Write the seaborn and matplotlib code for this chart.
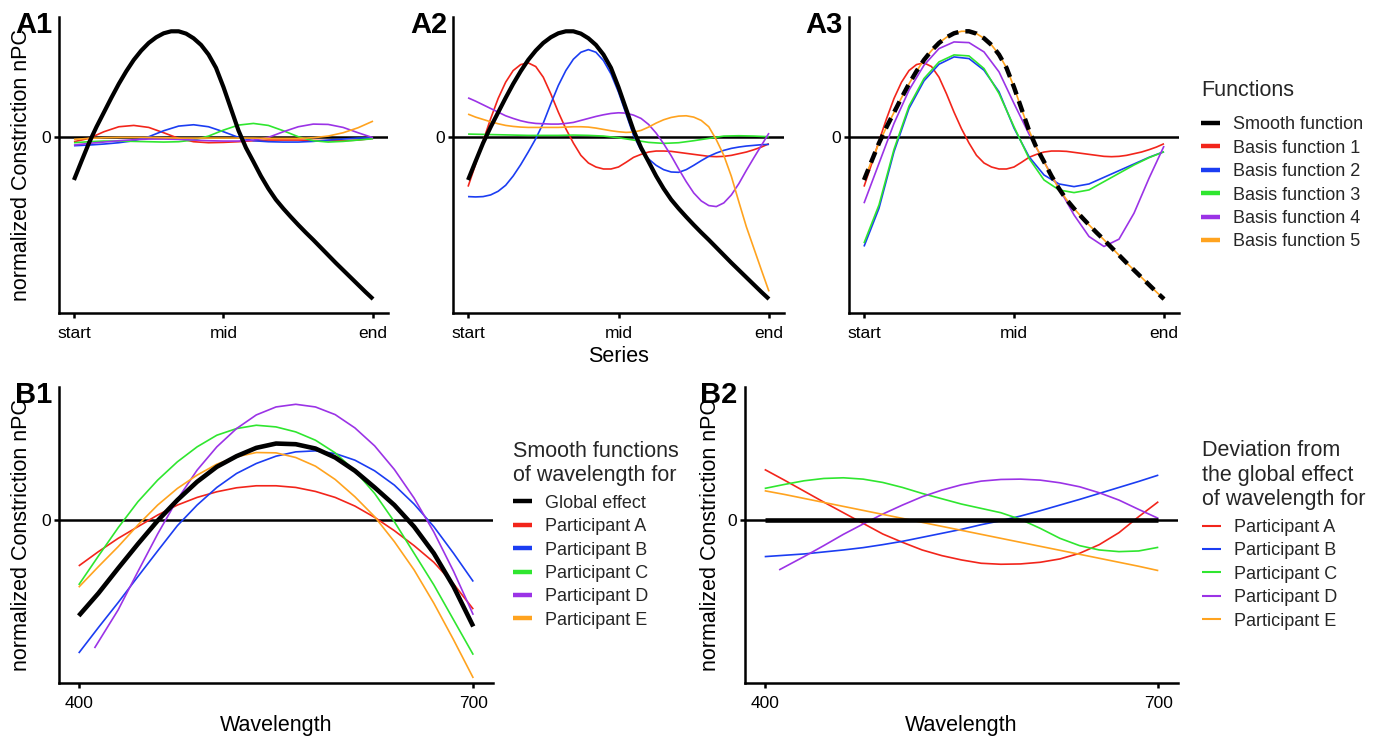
import numpy as np
import pandas as pd
import matplotlib
matplotlib.use("Agg")
import matplotlib.pyplot as plt
import seaborn as sns
from matplotlib.lines import Line2D

sns.set_theme(style="ticks")
plt.rcParams['font.family'] = ['Liberation Sans', 'DejaVu Sans']

# ---------------- data ----------------
series_x = [0.0, 0.05, 0.10, 0.15, 0.20, 0.25, 0.30, 0.35, 0.40, 0.45, 0.50,
            0.55, 0.60, 0.65, 0.70, 0.75, 0.80, 0.85, 0.90, 0.95, 1.0]
series_x_fine = [0.0, 0.025, 0.05, 0.075, 0.10, 0.125, 0.15, 0.175, 0.20, 0.225,
                 0.25, 0.275, 0.30, 0.325, 0.35, 0.375, 0.40, 0.425, 0.45, 0.475,
                 0.50, 0.525, 0.55, 0.575, 0.60, 0.625, 0.65, 0.675, 0.70, 0.725,
                 0.75, 0.775, 0.80, 0.825, 0.85, 0.875, 0.90, 0.925, 0.95, 0.975, 1.0]
series_ticks = [0.0, 0.5, 1.0]
series_ticklabels = ["start", "mid", "end"]

smooth_fn = [-1.29, -0.73, -0.18, 0.30, 0.74, 1.18, 1.60, 1.98, 2.32, 2.60,
             2.83, 3.00, 3.12, 3.18, 3.18, 3.11, 2.97, 2.77, 2.48, 2.08,
             1.50, 0.85, 0.20, -0.32, -0.74, -1.17, -1.55, -1.88, -2.15, -2.40,
             -2.64, -2.87, -3.09, -3.32, -3.55, -3.78, -4.00, -4.22, -4.44, -4.66, -4.87]

# A1: raw basis functions
a1_basis1 = [-0.14, -0.04, 0.16, 0.31, 0.35, 0.29, 0.13, -0.04, -0.14, -0.17, -0.16,
             -0.14, -0.11, -0.09, -0.09, -0.09, -0.10, -0.11, -0.11, -0.09, -0.04]
a1_basis2 = [-0.26, -0.24, -0.21, -0.17, -0.11, 0.01, 0.19, 0.33, 0.37, 0.31, 0.16,
             -0.01, -0.11, -0.14, -0.15, -0.15, -0.13, -0.09, -0.06, -0.03, -0.02]
a1_basis3 = [-0.17, -0.14, -0.12, -0.12, -0.13, -0.14, -0.15, -0.14, -0.09, 0.03, 0.21,
             0.36, 0.41, 0.35, 0.19, 0.01, -0.11, -0.15, -0.13, -0.09, -0.05]
a1_basis4 = [-0.24, -0.19, -0.15, -0.11, -0.08, -0.06, -0.06, -0.07, -0.09, -0.11, -0.12,
             -0.12, -0.09, -0.01, 0.16, 0.31, 0.39, 0.38, 0.29, 0.13, -0.02]
a1_basis5 = [-0.07, -0.04, -0.02, -0.01, -0.01, -0.01, -0.02, -0.03, -0.03, -0.03, -0.03,
             -0.03, -0.03, -0.04, -0.04, -0.04, -0.02, 0.03, 0.13, 0.28, 0.48]

# A2: weighted basis functions (fine grid except basis 3)
a2_basis1 = [-1.49, -0.82, -0.12, 0.55, 1.16, 1.65, 2.00, 2.18, 2.23, 2.12,
             1.80, 1.30, 0.75, 0.25, -0.18, -0.55, -0.78, -0.90, -0.96, -0.96,
             -0.90, -0.76, -0.61, -0.52, -0.45, -0.42, -0.42, -0.43, -0.46, -0.49,
             -0.52, -0.55, -0.58, -0.59, -0.58, -0.55, -0.50, -0.45, -0.38, -0.30, -0.20]
a2_basis2 = [-1.79, -1.80, -1.79, -1.74, -1.63, -1.45, -1.17, -0.83, -0.45, -0.05,
             0.42, 1.00, 1.55, 2.00, 2.34, 2.55, 2.63, 2.55, 2.30, 1.90,
             1.35, 0.70, 0.05, -0.40, -0.66, -0.85, -0.98, -1.05, -1.06, -0.98,
             -0.85, -0.71, -0.58, -0.48, -0.40, -0.34, -0.30, -0.27, -0.25, -0.23, -0.22]
a2_basis3 = [0.09, 0.08, 0.07, 0.06, 0.05, 0.05, 0.05, 0.06, 0.05, 0.03, -0.02,
             -0.09, -0.16, -0.19, -0.17, -0.11, -0.04, 0.03, 0.04, 0.03, 0.01]
a2_basis4 = [1.18, 1.08, 0.97, 0.86, 0.75, 0.64, 0.56, 0.49, 0.44, 0.41,
             0.40, 0.39, 0.39, 0.41, 0.44, 0.50, 0.56, 0.62, 0.67, 0.71,
             0.73, 0.72, 0.66, 0.56, 0.38, 0.12, -0.20, -0.56, -0.96, -1.34,
             -1.68, -1.92, -2.06, -2.09, -1.98, -1.74, -1.40, -1.00, -0.62, -0.25, 0.12]
a2_basis5 = [0.69, 0.60, 0.53, 0.46, 0.40, 0.35, 0.32, 0.30, 0.29, 0.29,
             0.29, 0.29, 0.29, 0.30, 0.31, 0.31, 0.30, 0.27, 0.23, 0.19,
             0.16, 0.14, 0.15, 0.20, 0.30, 0.42, 0.52, 0.59, 0.63, 0.64,
             0.60, 0.50, 0.31, -0.08, -0.55, -1.18, -1.95, -2.70, -3.35, -4.00, -4.64]

# A3: cumulative sums of weighted basis functions
a3_basis1 = [-1.49, -0.82, -0.12, 0.55, 1.16, 1.65, 2.00, 2.18, 2.23, 2.12,
             1.80, 1.30, 0.75, 0.25, -0.18, -0.55, -0.78, -0.90, -0.96, -0.96,
             -0.90, -0.76, -0.61, -0.52, -0.45, -0.42, -0.42, -0.43, -0.46, -0.49,
             -0.52, -0.55, -0.58, -0.59, -0.58, -0.55, -0.50, -0.45, -0.38, -0.30, -0.20]
a3_basis2 = [-3.29, -2.14, -0.44, 0.86, 1.69, 2.19, 2.41, 2.36, 2.01, 1.36, 0.27,
             -0.59, -1.14, -1.41, -1.49, -1.41, -1.21, -1.01, -0.81, -0.61, -0.44]
a3_basis3 = [-3.19, -2.04, -0.37, 0.93, 1.76, 2.26, 2.47, 2.44, 2.06, 1.31, 0.31,
             -0.64, -1.29, -1.59, -1.67, -1.59, -1.34, -1.09, -0.84, -0.62, -0.44]
a3_basis4 = [-1.99, -0.79, 0.41, 1.41, 2.16, 2.66, 2.86, 2.84, 2.56, 1.96, 1.01,
             0.09, -0.74, -1.54, -2.34, -2.99, -3.29, -3.07, -2.29, -1.24, -0.27]
a3_basis5 = [-1.29, -0.73, -0.18, 0.30, 0.74, 1.18, 1.60, 1.98, 2.32, 2.60,
             2.83, 3.00, 3.12, 3.18, 3.18, 3.11, 2.97, 2.77, 2.48, 2.08,
             1.50, 0.85, 0.20, -0.32, -0.74, -1.17, -1.55, -1.88, -2.15, -2.40,
             -2.64, -2.87, -3.09, -3.32, -3.55, -3.78, -4.00, -4.22, -4.44, -4.66, -4.87]

function_labels = ["Smooth function", "Basis function 1", "Basis function 2",
                   "Basis function 3", "Basis function 4", "Basis function 5"]

# B panels: wavelength
wavelength = [400, 415, 430, 445, 460, 475, 490, 505, 520, 535, 550,
              565, 580, 595, 610, 625, 640, 655, 670, 685, 700]
wavelength_ticks = [400, 700]
wl_partD_b1 = [412, 430, 445, 460, 475, 490, 505, 520, 535, 550,
               565, 580, 595, 610, 625, 640, 655, 670, 685, 700]
wl_partD_b2 = [411, 430, 445, 460, 475, 490, 505, 520, 535, 550,
               565, 580, 595, 610, 625, 640, 655, 670, 685, 700]

b1_global = [-2.88, -2.20, -1.45, -0.72, -0.02, 0.60, 1.15, 1.60, 1.92, 2.17, 2.30,
             2.28, 2.15, 1.88, 1.48, 0.98, 0.45, -0.20, -1.00, -2.00, -3.20]
b1_partA = [-1.38, -0.95, -0.55, -0.20, 0.15, 0.45, 0.68, 0.85, 0.97, 1.03, 1.03,
            0.98, 0.86, 0.68, 0.42, 0.08, -0.32, -0.77, -1.27, -1.92, -2.68]
b1_partB = [-4.00, -3.23, -2.48, -1.70, -0.93, -0.17, 0.45, 0.98, 1.40, 1.70, 1.92,
            2.05, 2.08, 2.00, 1.80, 1.48, 1.05, 0.48, -0.20, -1.00, -1.85]
b1_partC = [-1.95, -1.08, -0.23, 0.55, 1.20, 1.75, 2.20, 2.55, 2.75, 2.85, 2.80,
            2.65, 2.40, 2.02, 1.48, 0.80, -0.05, -1.00, -1.95, -3.00, -4.05]
b1_partD = [-3.85, -2.70, -1.55, -0.42, 0.62, 1.50, 2.20, 2.75, 3.16, 3.40,
            3.48, 3.40, 3.17, 2.77, 2.23, 1.52, 0.66, -0.36, -1.54, -2.85]
b1_partE = [-2.02, -1.40, -0.80, -0.15, 0.45, 0.95, 1.35, 1.68, 1.90, 2.03, 2.02,
            1.88, 1.62, 1.22, 0.70, 0.10, -0.65, -1.50, -2.50, -3.60, -4.75]

b2_global_x = [400, 700]
b2_global = [0.0, 0.0]
b2_partA = [1.52, 1.20, 0.87, 0.54, 0.22, -0.10, -0.42, -0.67, -0.90, -1.07, -1.20,
            -1.30, -1.33, -1.32, -1.27, -1.17, -1.00, -0.74, -0.38, 0.10, 0.55]
b2_partB = [-1.10, -1.06, -1.02, -0.96, -0.90, -0.83, -0.74, -0.64, -0.52, -0.40, -0.28,
            -0.14, -0.02, 0.12, 0.28, 0.45, 0.62, 0.80, 0.98, 1.16, 1.35]
b2_partC = [0.95, 1.07, 1.18, 1.25, 1.27, 1.23, 1.13, 0.98, 0.80, 0.64, 0.48,
            0.35, 0.22, 0.02, -0.25, -0.55, -0.77, -0.90, -0.95, -0.93, -0.82]
b2_partD = [-1.50, -1.10, -0.77, -0.43, -0.12, 0.18, 0.45, 0.70, 0.90, 1.06,
            1.17, 1.22, 1.23, 1.20, 1.12, 1.00, 0.82, 0.60, 0.32, 0.05]
b2_partE = [0.88, 0.77, 0.65, 0.53, 0.41, 0.29, 0.17, 0.05, -0.07, -0.19, -0.31,
            -0.43, -0.55, -0.67, -0.79, -0.91, -1.03, -1.15, -1.27, -1.39, -1.52]

participant_labels = ["Participant A", "Participant B", "Participant C",
                      "Participant D", "Participant E"]

# ---------------- styling ----------------
COLS = ["#F2251B", "#1B3DF2", "#2FE62F", "#9B33E6", "#FFA31F"]
W, H = 1381, 736
LABEL_FS = 15.5
TICK_FS = 12.5
LEG_FS = 13
AXIS_LW = 1.8

fig = plt.figure(figsize=(W / 100, H / 100), dpi=100)


def px_axes(l, t, r, b):
    return fig.add_axes([l / W, 1 - b / H, (r - l) / W, (b - t) / H])


def line(ax, x, y, color, lw, ls="-", z=2):
    df = pd.DataFrame({"x": x, "y": y})
    sns.lineplot(data=df, x="x", y="y", ax=ax, color=color, linewidth=lw,
                 estimator=None, sort=False, legend=False, zorder=z)
    ln = ax.lines[-1]
    if ls != "-":
        ln.set_linestyle(ls)
    ln.set_solid_capstyle("butt")
    ln.set_solid_joinstyle("round")
    return ln


def style_axes(ax, xticks, xticklabels, xlim, ylim):
    for s in ["top", "right"]:
        ax.spines[s].set_visible(False)
    for s in ["left", "bottom"]:
        ax.spines[s].set_linewidth(AXIS_LW)
        ax.spines[s].set_color("black")
    ax.set_xlim(*xlim)
    ax.set_ylim(*ylim)
    ax.set_xticks(xticks)
    ax.set_xticklabels(xticklabels)
    ax.set_yticks([0])
    ax.set_yticklabels(["0"])
    ax.tick_params(axis="both", direction="out", length=3.6, width=AXIS_LW,
                   labelsize=TICK_FS, colors="black")
    ax.tick_params(axis="y", pad=2.5)
    ax.tick_params(axis="x", pad=5.5)
    ax.set_xlabel("")
    ax.set_ylabel("")
    ax.axhline(0, color="black", lw=AXIS_LW, zorder=1.5)


A_XLIM = (-0.05, 1.05)
A_YLIM = (-5.29, 3.61)
B_XLIM = (385, 715)
B_YLIM = (-4.9, 4.0)

# A1
ax1 = px_axes(59, 17, 388, 313)
for y, c in zip([a1_basis1, a1_basis2, a1_basis3, a1_basis4, a1_basis5], COLS):
    line(ax1, series_x, y, c, 1.2)
line(ax1, series_x_fine, smooth_fn, "black", 3.0, z=3)
style_axes(ax1, series_ticks, series_ticklabels, A_XLIM, A_YLIM)

# A2
ax2 = px_axes(453, 17, 784, 313)
a2_series = [(series_x_fine, a2_basis1), (series_x_fine, a2_basis2),
             (series_x, a2_basis3), (series_x_fine, a2_basis4),
             (series_x_fine, a2_basis5)]
for (x, y), c in zip(a2_series, COLS):
    line(ax2, x, y, c, 1.2)
line(ax2, series_x_fine, smooth_fn, "black", 3.0, z=3)
style_axes(ax2, series_ticks, series_ticklabels, A_XLIM, A_YLIM)

# A3
ax3 = px_axes(849, 17, 1179, 313)
a3_series = [(series_x_fine, a3_basis1), (series_x, a3_basis2), (series_x, a3_basis3),
             (series_x, a3_basis4), (series_x_fine, a3_basis5)]
for (x, y), c in zip(a3_series, COLS):
    line(ax3, x, y, c, 1.2)
line(ax3, series_x_fine, smooth_fn, "black", 3.2, ls=(0, (2.6, 1.6)), z=3)
style_axes(ax3, series_ticks, series_ticklabels, A_XLIM, A_YLIM)

# B1
bx1 = px_axes(59, 387, 493, 683)
b1_series = [(wavelength, b1_partA), (wavelength, b1_partB), (wavelength, b1_partC),
             (wl_partD_b1, b1_partD), (wavelength, b1_partE)]
for (x, y), c in zip(b1_series, COLS):
    line(bx1, x, y, c, 1.2)
line(bx1, wavelength, b1_global, "black", 3.3, z=3)
style_axes(bx1, wavelength_ticks, ["400", "700"], B_XLIM, B_YLIM)

# B2
bx2 = px_axes(745, 387, 1178, 683)
b2_series = [(wavelength, b2_partA), (wavelength, b2_partB), (wavelength, b2_partC),
             (wl_partD_b2, b2_partD), (wavelength, b2_partE)]
for (x, y), c in zip(b2_series, COLS):
    line(bx2, x, y, c, 1.2)
line(bx2, b2_global_x, b2_global, "black", 3.3, z=3)
style_axes(bx2, wavelength_ticks, ["400", "700"], B_XLIM, B_YLIM)

# axis labels
for ax, xpix in [(ax1, 22), (bx1, 22), (bx2, 710)]:
    ax.set_ylabel("normalized Constriction nPC", fontsize=LABEL_FS, color="black")
    ax.yaxis.label.set_va("center")
    l = ax.get_position().x0 * W
    w = ax.get_position().width * W
    ax.yaxis.set_label_coords((xpix - l) / w, 0.5)

ax2.set_xlabel("Series", fontsize=LABEL_FS, color="black")
ax2.xaxis.label.set_va("center")
ax2.xaxis.set_label_coords(0.5, (313 - 357) / 296)
for ax in (bx1, bx2):
    ax.set_xlabel("Wavelength", fontsize=LABEL_FS, color="black")
    ax.xaxis.label.set_va("center")
    ax.xaxis.set_label_coords(0.5, (683 - 726) / 296)

# panel tags
for tag, x, y in [("A1", 15, 33), ("A2", 410, 33), ("A3", 805, 33),
                  ("B1", 15, 403), ("B2", 700, 403)]:
    fig.text(x / W, 1 - y / H, tag, fontsize=21, fontweight="bold",
             ha="left", va="baseline", color="black")

# legends
def make_legend(labels, colors, lws, title, x, yc, title_sep):
    handles = [Line2D([0], [0], color=c, lw=lw, solid_capstyle="butt")
               for c, lw in zip(colors, lws)]
    leg = fig.legend(handles, labels, title=title, loc="center left",
                     bbox_to_anchor=(x / W, 1 - yc / H), frameon=False,
                     fontsize=LEG_FS, title_fontsize=LABEL_FS,
                     handlelength=1.05, handletextpad=0.72, labelspacing=0.355,
                     borderpad=0, borderaxespad=0, alignment="left")
    leg._legend_box.sep = title_sep
    return leg

make_legend(function_labels, ["black"] + COLS, [3.2] * 6, "Functions", 1201, 165, 11.4)
make_legend(["Global effect"] + participant_labels, ["black"] + COLS, [3.2] * 6,
            "Smooth functions\nof wavelength for", 513, 535, 6.0)
make_legend(participant_labels, COLS, [1.5] * 5,
            "Deviation from\nthe global effect\nof wavelength for", 1202, 535, 6.5)

fig.savefig("out.png", dpi=100)
